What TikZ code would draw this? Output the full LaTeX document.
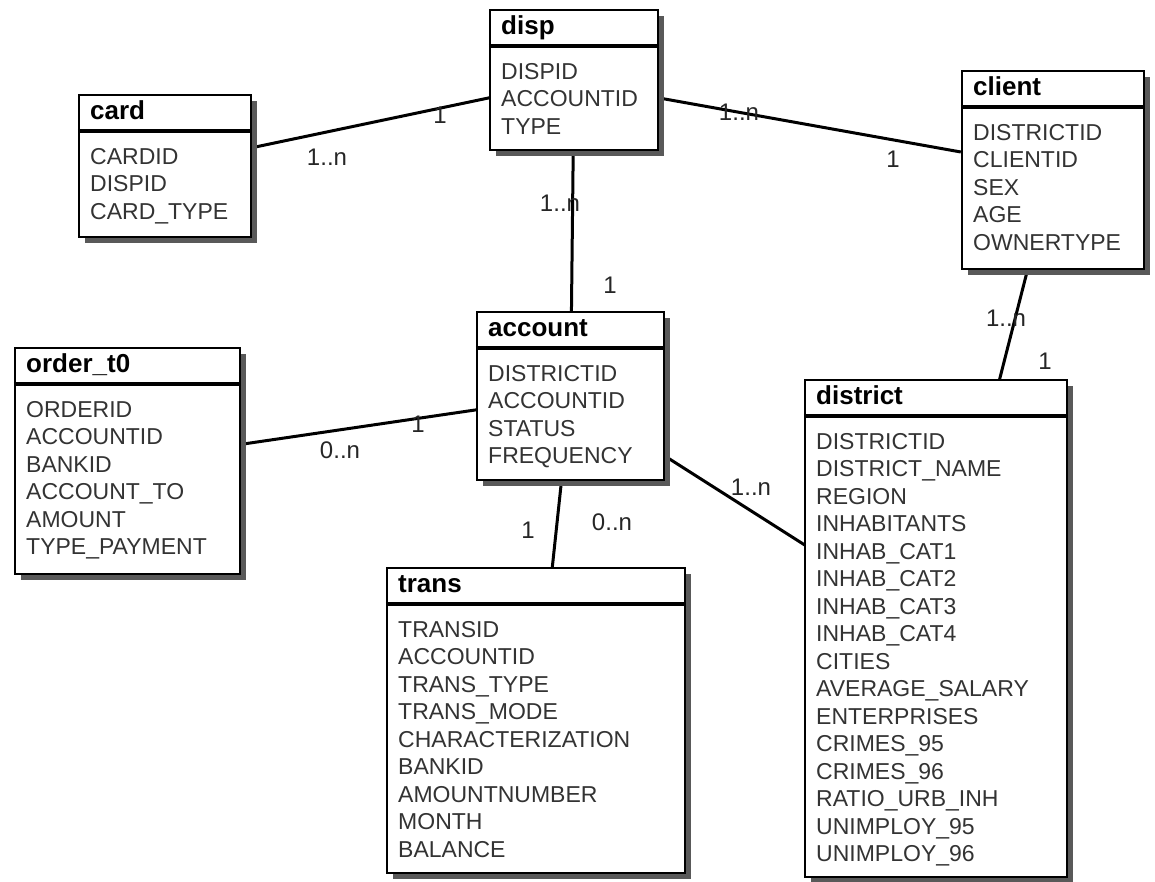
\documentclass[tikz,border=0pt]{standalone}
\usepackage{fontspec}
\setmainfont{Liberation Sans}
\usetikzlibrary{shadows,backgrounds}

\begin{document}
\begin{tikzpicture}[x=0.5pt, y=-0.5pt,
    entity/.style={draw, fill=white, line width=1.2pt,
      drop shadow={shadow xshift=3pt, shadow yshift=-3pt, fill=black!65, opacity=1}},
    etitle/.style={anchor=base west, inner sep=0pt, font=\fontsize{13}{15}\selectfont\bfseries},
    efields/.style={anchor=north west, inner sep=0pt, align=left, text=black!80,
      font=\fontsize{11.5}{13.75}\selectfont},
    esep/.style={line width=2pt},
    link/.style={line width=1.5pt},
    mult/.style={inner sep=0pt, text=black!85, font=\fontsize{12}{14}\selectfont}]
    \useasboundingbox (0,0) rectangle (1155,882);
    % ── Tables ──────────────────────────────────────────────────────────────
    % disp
    \node[entity, minimum width=84pt, minimum height=70pt] (disp) at (574,80) {};
    \node[etitle] (disp-title) at ([xshift=6pt, yshift=-13pt]disp.north west) {disp};
    \draw[esep] ([yshift=-18.5pt]disp.north west) -- ([yshift=-18.5pt]disp.north east);
    \node[efields] (disp-fields) at ([xshift=6pt, yshift=-26.9pt]disp.north west)
      {DISPID\\ ACCOUNTID\\ TYPE};
    % card
    \node[entity, minimum width=86pt, minimum height=71pt] (card) at (165,166) {};
    \node[etitle] (card-title) at ([xshift=6pt, yshift=-13pt]card.north west) {card};
    \draw[esep] ([yshift=-18.5pt]card.north west) -- ([yshift=-18.5pt]card.north east);
    \node[efields] (card-fields) at ([xshift=6pt, yshift=-26.9pt]card.north west)
      {CARDID\\ DISPID\\ CARD\_TYPE};
    % client
    \node[entity, minimum width=91pt, minimum height=99pt] (client) at (1053,170) {};
    \node[etitle] (client-title) at ([xshift=6pt, yshift=-13pt]client.north west) {client};
    \draw[esep] ([yshift=-18.5pt]client.north west) -- ([yshift=-18.5pt]client.north east);
    \node[efields] (client-fields) at ([xshift=6pt, yshift=-26.9pt]client.north west)
      {DISTRICTID\\ CLIENTID\\ SEX\\ AGE\\ OWNERTYPE};
    % order_t0
    \node[entity, minimum width=112.5pt, minimum height=113pt] (order) at (127.5,461) {};
    \node[etitle] (order-title) at ([xshift=6pt, yshift=-13pt]order.north west) {order\_t0};
    \draw[esep] ([yshift=-18.5pt]order.north west) -- ([yshift=-18.5pt]order.north east);
    \node[efields] (order-fields) at ([xshift=6pt, yshift=-26.9pt]order.north west)
      {ORDERID\\ ACCOUNTID\\ BANKID\\ ACCOUNT\_TO\\ AMOUNT\\ TYPE\_PAYMENT};
    % account
    \node[entity, minimum width=93.5pt, minimum height=84pt] (account) at (570.5,396) {};
    \node[etitle] (account-title) at ([xshift=6pt, yshift=-13pt]account.north west) {account};
    \draw[esep] ([yshift=-18.5pt]account.north west) -- ([yshift=-18.5pt]account.north east);
    \node[efields] (account-fields) at ([xshift=6pt, yshift=-26.9pt]account.north west)
      {DISTRICTID\\ ACCOUNTID\\ STATUS\\ FREQUENCY};
    % trans
    \node[entity, minimum width=149pt, minimum height=152.5pt] (trans) at (536,720.5) {};
    \node[etitle] (trans-title) at ([xshift=6pt, yshift=-13pt]trans.north west) {trans};
    \draw[esep] ([yshift=-18.5pt]trans.north west) -- ([yshift=-18.5pt]trans.north east);
    \node[efields] (trans-fields) at ([xshift=6pt, yshift=-26.9pt]trans.north west)
      {TRANSID\\ ACCOUNTID\\ TRANS\_TYPE\\ TRANS\_MODE\\ CHARACTERIZATION\\
       BANKID\\ AMOUNTNUMBER\\ MONTH\\ BALANCE};
    % district
    \node[entity, minimum width=131pt, minimum height=248.5pt] (district) at (936,628.5) {};
    \node[etitle] (district-title) at ([xshift=6pt, yshift=-13pt]district.north west) {district};
    \draw[esep] ([yshift=-18.5pt]district.north west) -- ([yshift=-18.5pt]district.north east);
    \node[efields] (district-fields) at ([xshift=6pt, yshift=-26.9pt]district.north west)
      {DISTRICTID\\ DISTRICT\_NAME\\ REGION\\ INHABITANTS\\ INHAB\_CAT1\\ INHAB\_CAT2\\
       INHAB\_CAT3\\ INHAB\_CAT4\\ CITIES\\ AVERAGE\_SALARY\\ ENTERPRISES\\ CRIMES\_95\\
       CRIMES\_96\\ RATIO\_URB\_INH\\ UNIMPLOY\_95\\ UNIMPLOY\_96};
    % ── Relations (behind the tables) ───────────────────────────────────────
    \begin{scope}[on background layer]
      \draw[link] (card.center) -- (disp.center);
      \draw[link] ([yshift=-9pt]disp.east) -- ([yshift=9pt]client.west);
      \draw[link] (disp.center) -- (account.center);
      \draw[link] (client.center) -- (district.center);
      \draw[link] (order.center) -- (account.center);
      \draw[link] (account.center) -- (trans.center);
      \draw[link] (account.center) -- (district.center);
    \end{scope}
    % ── Multiplicities ──────────────────────────────────────────────────────
    \node[mult] (m-cd-disp) at (440,115) {1};
    \node[mult] (m-cd-card) at (327,157) {1..n};
    \node[mult] (m-dc-disp) at (739,112) {1..n};
    \node[mult] (m-dc-client) at (893,159) {1};
    \node[mult] (m-da-disp) at (560,203) {1..n};
    \node[mult] (m-da-account) at (610,285) {1};
    \node[mult] (m-cl-client) at (1006,318) {1..n};
    \node[mult] (m-cl-district) at (1045,361) {1};
    \node[mult] (m-oa-order) at (340,450) {0..n};
    \node[mult] (m-oa-account) at (418,424) {1};
    \node[mult] (m-at-account) at (528,530) {1};
    \node[mult] (m-at-trans) at (612,522) {0..n};
    \node[mult] (m-ad-account) at (751,487) {1..n};
  \end{tikzpicture}
\end{document}
